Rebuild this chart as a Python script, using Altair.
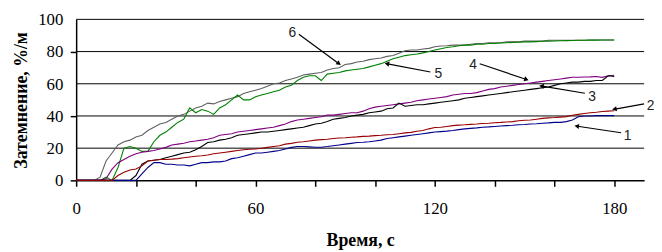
import math
import altair as alt
import pandas as pd

# sample times, s
t = list(range(0, 181, 2))

# series values (%/m), one value per sample time
s1 = [0, 0, 0, 0, 0,   0, 0, 0, 0, 0,   0, 4, 8, 11, 11,   10, 10, 9.5, 9.5, 9,
      10, 11, 11, 11.5, 11.5,   12, 13.5, 14, 15, 16,   17, 17, 17.5, 18, 18.5,
      19.5, 20.5, 21, 21, 20.8,   20.6, 20.6, 21, 21.5, 22,   22.5, 23, 23.5, 23.7, 24,
      24.5, 25, 26, 26.5, 27,   27.5, 28, 28.5, 29, 29.5,   30, 30.3, 30.6, 31, 31.5,
      32, 32.3, 32.6, 33, 33.2,   33.5, 33.8, 34, 34.2, 34.5,   34.7, 35, 35.2, 35.5, 35.7,
      36, 36, 36.5, 37.5, 39.5,   40, 40, 40.2, 40.2, 40.2,   40.2]
s2 = [0, 0, 0, 0, 0,   0, 0, 3, 5, 6.5,   7, 9, 12, 12.5, 13,   13, 13.2, 13.5, 14, 14.5,
      15, 15.3, 15.8, 16.5, 17,   17.5, 18, 18.5, 19, 19.3,   19.5, 20, 20.5, 21, 21.5,
      22.5, 23, 23.7, 24, 24.5,   25, 25.3, 25.5, 26, 26.3,   26.5, 26.8, 27, 27.3, 27.5,
      27.8, 28, 28.3, 28.5, 29,   29.5, 29.8, 30.5, 31, 32,   32.8, 33, 33.5, 34, 34.3,
      34.5, 34.8, 35, 35.3, 35.5,   35.8, 36, 36.3, 36.5, 37,   37.3, 37.5, 38, 38.5, 38.8,
      39, 39.3, 39.6, 40.5, 41,   41.5, 42, 42.3, 42.8, 43,   43.2]
s3 = [0, 0, 0, 0, 0,   0, 0, 0, 0, 0,   3, 10, 12, 12.5, 13,   14, 15, 16, 17, 17.5,
      19, 21, 23.5, 24, 25,   25.5, 26.5, 28, 28.5, 29,   29.5, 30, 30, 30.5, 31,
      31.5, 32, 32.5, 33, 34,   35, 35.5, 36.5, 38, 38.5,   39, 40, 40.5, 41, 42,
      42.5, 43, 44.5, 45, 48,   46, 46.5, 47, 47, 47.5,   48, 48.5, 49, 49.5, 50,
      51, 51.5, 52, 52.5, 53,   53.5, 54, 54.5, 55, 55.5,   56, 56.5, 57, 57.5, 58,
      59, 60, 60.5, 61, 61,   61.5, 61.5, 62, 62, 65,   64.5]
s4 = [0, 0, 0, 0, 0,   1, 7, 11, 13, 15,   16.5, 17.5, 18, 18.5, 19.5,   20.5, 22, 22.5, 23, 24,
      24.5, 25, 25.5, 26.5, 28,   28.5, 29, 30, 30.5, 31,   31.5, 32, 32.5, 33, 34,
      35, 36.5, 37.5, 38, 38.5,   39, 39.5, 40.5, 40.5, 41,   41.5, 42, 42, 43, 44.5,
      45.5, 46, 46.5, 47, 47.5,   48, 48.5, 49.5, 50, 50.5,   51, 51.5, 52, 53, 53.5,
      54, 54, 54.5, 55.5, 56.5,   57, 58, 58.5, 59, 59.5,   60, 60.5, 61, 61.5, 62,
      62.5, 63, 63.5, 64, 64,   64.2, 64.3, 64.5, 64, 65,   65.3]
s5 = [0, 0, 0, 0, 0,   2, 0, 8, 20, 21,   20, 18, 18, 24, 28,   30, 33, 36, 38, 45,
      42, 44, 43, 41, 45,   47, 50, 53, 50, 50,   52, 53, 54, 55, 56,
      58, 59, 62, 64, 65,   65, 62, 66, 66.5, 67,   68, 68.5, 69, 69.5, 70.5,
      71.5, 72.5, 74, 75.5, 76.5,   77.5, 78, 78.5, 79.2, 80,   81, 81.8, 82.5, 83, 83.6,
      84, 84, 84.5, 84.5, 85,   85, 85.3, 85.5, 85.7, 85.8,   86, 86, 86.2, 86.4, 86.5,
      86.6, 86.7, 86.8, 86.9, 87,   87, 87.1, 87.1, 87.2, 87.2,   87.2]
s6 = [0, 0, 0, 0, 2,   12, 17, 22, 24, 25,   27, 28, 31, 33, 35,   36, 38, 40, 41, 43,
      45, 46, 48, 47.5, 49,   50, 51, 52, 54, 55,   56, 57, 58.5, 60, 60.5,
      62, 63, 64, 65.5, 66,   66.5, 67, 68.5, 69.5, 70,   72, 72.5, 73.5, 74, 75,
      75.5, 76, 77, 77.5, 79,   80.5, 81, 81, 81.6, 82,   83, 83.5, 83.6, 84, 84,
      84, 84.5, 85, 85, 85.5,   85.5, 85.5, 86, 86, 86,   86.5, 86.5, 86.5, 86.5, 87,
      87, 87, 87, 87, 87,   87, 87.2, 87.2, 87.2, 87.2,   87.2]

series_names = ["1", "2", "3", "4", "5", "6"]
series_vals = [s1, s2, s3, s4, s5, s6]
series_colors = ["#00008B", "#990000", "#000000", "#800080", "#008000", "#606060"]
draw_order = ["6", "5", "4", "3", "1", "2"]

grid_vals = [20, 40, 60, 80, 100]
y_label_vals = [0, 20, 40, 60, 80, 100]
x_ticks = list(range(0, 191, 10))
y_ticks = list(range(0, 101, 10))

# callouts: label position and arrow from (x0,y0) to tip (x1,y1)
ann_label = ["1", "2", "3", "4", "5", "6"]
ann_tx = [184.5, 192.2, 172.6, 132.8, 121.2, 72.3]
ann_ty = [27.5, 46.3, 52.0, 71.4, 66.3, 91.5]
arr_x0 = [182.3, 190.0, 170.2, 135.0, 118.5, 74.5]
arr_y0 = [29.6, 47.5, 54.1, 72.4, 67.3, 90.8]
arr_x1 = [167.7, 180.3, 155.9, 150.4, 104.2, 87.7]
arr_y1 = [33.6, 44.3, 58.5, 62.8, 72.4, 72.8]

W, H = 575, 163
XMAX, YMAX = 190, 100

rows = []
for name, vals in zip(series_names, series_vals):
    for ti, yi in zip(t, vals):
        rows.append({"t": ti, "v": yi, "s": name})
df = pd.DataFrame(rows)

kx, ky = W / XMAX, H / YMAX
angs = []
for a, b, c, d in zip(arr_x0, arr_y0, arr_x1, arr_y1):
    dx = (c - a) * kx
    dy = -(d - b) * ky
    angs.append(math.degrees(math.atan2(dx, -dy)) % 360)
ann = pd.DataFrame({"lab": ann_label, "tx": ann_tx, "ty": ann_ty,
                    "x0": arr_x0, "y0": arr_y0, "x1": arr_x1, "y1": arr_y1, "ang": angs})
grid = pd.DataFrame({"g": grid_vals})
ylab = pd.DataFrame({"yl": y_label_vals, "txt": [str(v) for v in y_label_vals]})

xs = alt.Scale(domain=[0, XMAX], nice=False, zero=False)
ys = alt.Scale(domain=[0, YMAX], nice=False, zero=False)

serif = "Liberation Serif"

x_axis = alt.Axis(values=x_ticks,
                  labelOpacity={"condition": {"test": "datum.value % 60 == 0", "value": 1}, "value": 0},
                  grid=False, tickSize=6, tickWidth=1.5, tickColor="black",
                  domainColor="black", domainWidth=1.5,
                  labelFont=serif, labelFontSize=17, labelOverlap=False,
                  labelColor="black", labelPadding=15, labelFlush=False,
                  title="Время, с", titleFont=serif, titleFontSize=18,
                  titleFontWeight="bold", titleColor="black", titlePadding=15)
y_axis = alt.Axis(values=y_ticks, labels=False, grid=False,
                  tickSize=6, tickWidth=1.5, tickColor="black",
                  domainColor="black", domainWidth=1.5,
                  title="Затемнение, %/м", titleFont=serif, titleFontSize=18,
                  titleFontWeight="bold", titleColor="black", titlePadding=40)

grid_layer = alt.Chart(grid).mark_rule(color="black", strokeWidth=1).encode(
    y=alt.Y("g:Q", scale=ys, axis=y_axis))

y_label_layer = alt.Chart(ylab).mark_text(
    align="right", baseline="middle", font=serif, fontSize=17, color="black", dy=1).encode(
    x=alt.value(-13), y=alt.Y("yl:Q", scale=ys), text="txt:N")

line_layers = []
for name in draw_order:
    i = series_names.index(name)
    line_layers.append(
        alt.Chart(df).transform_filter(alt.datum.s == name).mark_line(
            color=series_colors[i], strokeWidth=1.1).encode(
            x=alt.X("t:Q", scale=xs, axis=x_axis),
            y=alt.Y("v:Q", scale=ys),
        )
    )

arrow_lines = alt.Chart(ann).mark_rule(color="black", strokeWidth=1.2).encode(
    x=alt.X("x0:Q", scale=xs), y=alt.Y("y0:Q", scale=ys),
    x2="x1:Q", y2="y1:Q")
arrow_heads = alt.Chart(ann).mark_point(shape="triangle", filled=True, size=28,
                                        color="black", opacity=1).encode(
    x=alt.X("x1:Q", scale=xs), y=alt.Y("y1:Q", scale=ys),
    angle=alt.Angle("ang:Q", scale=None))
labels = alt.Chart(ann).mark_text(font="Liberation Sans", fontSize=14,
                                  color="#222222").encode(
    x=alt.X("tx:Q", scale=xs), y=alt.Y("ty:Q", scale=ys), text="lab:N")

chart = alt.layer(grid_layer, y_label_layer, *line_layers, arrow_lines, arrow_heads,
                  labels).properties(
    width=W, height=H,
    autosize=alt.AutoSizeParams(type="none"),
    padding={"left": 69, "top": 10, "right": 10, "bottom": 70},
).configure_view(stroke=None)

chart.save("out.html", embed_options={"renderer": "svg", "actions": False})
